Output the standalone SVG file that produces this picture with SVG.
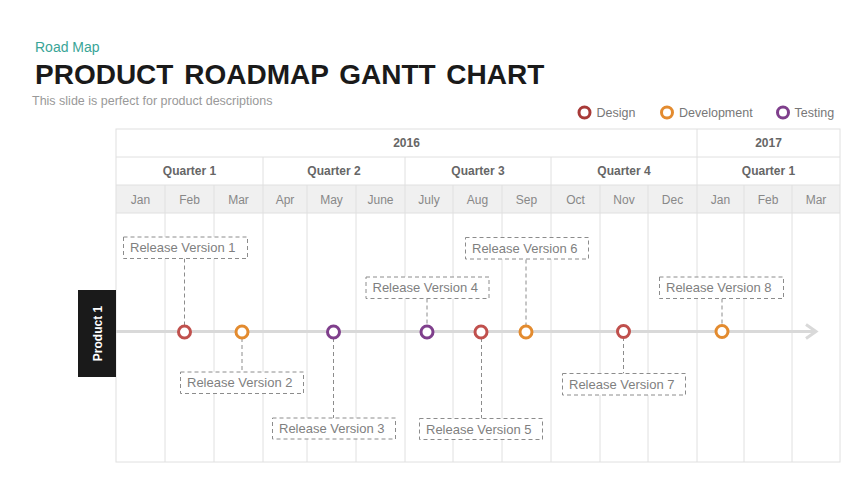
<svg xmlns="http://www.w3.org/2000/svg" width="853" height="480" viewBox="0 0 853 480">
<defs>
<style>
text{font-family:"Liberation Sans",Arial,sans-serif}
.grid{stroke:#e0e0e0;stroke-width:1;fill:none}
.hdr{font-size:12px;font-weight:bold;fill:#666;text-anchor:middle}
.mon{font-size:12px;fill:#888;text-anchor:middle}
.box{fill:#fff;stroke:#8c8c8c;stroke-width:1;stroke-dasharray:4 3}
.lbl{font-size:13px;fill:#7f7f7f}
.conn{stroke:#8c8c8c;stroke-width:1;stroke-dasharray:4 3;fill:none}
.ms{fill:#fff;stroke-width:3}
.design{stroke:#c0504d}
.dev{stroke:#e38b2f}
.test{stroke:#7f3f8c}
.leg{font-size:12.5px;fill:#777}
</style>
</defs>
<rect width="853" height="480" fill="#fff"/>

<g id="header">
<text x="35" y="52" font-size="14" fill="#3aa597">Road Map</text>
<text x="35" y="84" font-size="28" font-weight="bold" fill="#1a1a1a" word-spacing="3">PRODUCT ROADMAP GANTT CHART</text>
<text x="32" y="105" font-size="12.5" fill="#999">This slide is perfect for product descriptions</text>
</g>

<g id="legend">
<circle class="ms design" cx="584.5" cy="112.5" r="5.5" style="stroke:#a83a38"/>
<text class="leg" x="596.5" y="117">Design</text>
<circle class="ms dev" cx="667" cy="112.5" r="5.5"/>
<text class="leg" x="679" y="117">Development</text>
<circle class="ms test" cx="783" cy="112.5" r="5.5"/>
<text class="leg" x="794.5" y="117">Testing</text>
</g>

<g id="table">
<rect x="116" y="185" width="724" height="28" fill="#f0f0f0"/>
<rect class="grid" x="116" y="129" width="724" height="333"/>
<line class="grid" x1="116" y1="157" x2="840" y2="157"/>
<line class="grid" x1="116" y1="185" x2="840" y2="185"/>
<line class="grid" x1="116" y1="213" x2="840" y2="213"/>
<line class="grid" x1="697" y1="129" x2="697" y2="462"/>
<line class="grid" x1="263" y1="157" x2="263" y2="462"/>
<line class="grid" x1="405" y1="157" x2="405" y2="462"/>
<line class="grid" x1="551" y1="157" x2="551" y2="462"/>
<g>
<line class="grid" x1="165" y1="185" x2="165" y2="462"/>
<line class="grid" x1="214" y1="185" x2="214" y2="462"/>
<line class="grid" x1="307" y1="185" x2="307" y2="462"/>
<line class="grid" x1="356" y1="185" x2="356" y2="462"/>
<line class="grid" x1="453" y1="185" x2="453" y2="462"/>
<line class="grid" x1="502" y1="185" x2="502" y2="462"/>
<line class="grid" x1="600" y1="185" x2="600" y2="462"/>
<line class="grid" x1="648" y1="185" x2="648" y2="462"/>
<line class="grid" x1="744" y1="185" x2="744" y2="462"/>
<line class="grid" x1="792" y1="185" x2="792" y2="462"/>
</g>
<text class="hdr" x="406.5" y="147">2016</text>
<text class="hdr" x="768.5" y="147">2017</text>
<text class="hdr" x="189.5" y="175">Quarter 1</text>
<text class="hdr" x="334" y="175">Quarter 2</text>
<text class="hdr" x="478" y="175">Quarter 3</text>
<text class="hdr" x="624" y="175">Quarter 4</text>
<text class="hdr" x="768.5" y="175">Quarter 1</text>
<text class="mon" x="140.5" y="204">Jan</text>
<text class="mon" x="189.5" y="204">Feb</text>
<text class="mon" x="238.5" y="204">Mar</text>
<text class="mon" x="285" y="204">Apr</text>
<text class="mon" x="331.5" y="204">May</text>
<text class="mon" x="380.5" y="204">June</text>
<text class="mon" x="429" y="204">July</text>
<text class="mon" x="477.5" y="204">Aug</text>
<text class="mon" x="526.5" y="204">Sep</text>
<text class="mon" x="575.5" y="204">Oct</text>
<text class="mon" x="624" y="204">Nov</text>
<text class="mon" x="672.5" y="204">Dec</text>
<text class="mon" x="720.5" y="204">Jan</text>
<text class="mon" x="768" y="204">Feb</text>
<text class="mon" x="816" y="204">Mar</text>
</g>

<g id="timeline">
<line x1="116" y1="331.5" x2="816" y2="331.5" stroke="#d9d9d9" stroke-width="3"/>
<polyline points="806,324.5 816,331.5 806,338.5" fill="none" stroke="#d9d9d9" stroke-width="3"/>
</g>

<g id="product1">
<rect x="78" y="290" width="38" height="87" fill="#1a1a1a"/>
<text x="0" y="0" transform="translate(101.5,333.5) rotate(-90)" font-size="12" font-weight="bold" fill="#fff" text-anchor="middle">Product 1</text>
</g>

<g id="connectors">
<line class="conn" x1="184.5" y1="258.5" x2="184.5" y2="326"/>
<line class="conn" x1="242" y1="338" x2="242" y2="372"/>
<line class="conn" x1="333.5" y1="338" x2="333.5" y2="418"/>
<line class="conn" x1="427" y1="298.5" x2="427" y2="326"/>
<line class="conn" x1="481.5" y1="338" x2="481.5" y2="418.5"/>
<line class="conn" x1="526" y1="259.5" x2="526" y2="326"/>
<line class="conn" x1="623.5" y1="337" x2="623.5" y2="373.5"/>
<line class="conn" x1="722" y1="298.5" x2="722" y2="325"/>
</g>

<g id="rv1">
<rect class="box" x="123.5" y="237" width="124" height="21.5"/>
<text class="lbl" x="130" y="252">Release Version 1</text>
<circle class="ms design" cx="184.5" cy="332" r="6"/>
</g>
<g id="rv2">
<rect class="box" x="180.5" y="372" width="123" height="21.5"/>
<text class="lbl" x="187" y="387">Release Version 2</text>
<circle class="ms dev" cx="242" cy="332" r="6"/>
</g>
<g id="rv3">
<rect class="box" x="272.5" y="418" width="123" height="21"/>
<text class="lbl" x="279" y="433">Release Version 3</text>
<circle class="ms test" cx="333.5" cy="332" r="6"/>
</g>
<g id="rv4">
<rect class="box" x="366" y="277" width="123" height="21.5"/>
<text class="lbl" x="372.5" y="292">Release Version 4</text>
<circle class="ms test" cx="427" cy="332" r="6"/>
</g>
<g id="rv5">
<rect class="box" x="419.5" y="418.5" width="123" height="21"/>
<text class="lbl" x="426" y="433.5">Release Version 5</text>
<circle class="ms design" cx="481" cy="332" r="6"/>
</g>
<g id="rv6">
<rect class="box" x="465.5" y="237.5" width="123" height="21.5"/>
<text class="lbl" x="472" y="252.5">Release Version 6</text>
<circle class="ms dev" cx="526" cy="332" r="6"/>
</g>
<g id="rv7">
<rect class="box" x="562.5" y="373.5" width="123" height="21.5"/>
<text class="lbl" x="569" y="388.5">Release Version 7</text>
<circle class="ms design" cx="623.5" cy="331.5" r="6"/>
</g>
<g id="rv8">
<rect class="box" x="659.5" y="277" width="124" height="21.5"/>
<text class="lbl" x="666" y="292">Release Version 8</text>
<circle class="ms dev" cx="722" cy="331.5" r="6"/>
</g>
</svg>
